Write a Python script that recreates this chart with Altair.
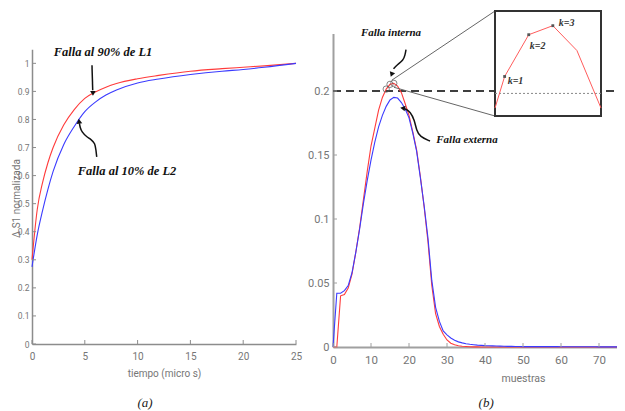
import altair as alt
import pandas as pd

# ---------------- data: panel (a) ----------------
t_a = [0, 0.5, 1, 1.5, 2, 3, 4, 5, 6, 7, 8, 10, 12, 15, 18, 20, 22, 25]
red_a = [0.300, 0.480, 0.575, 0.645, 0.700, 0.780, 0.835, 0.875, 0.898, 0.915,
         0.928, 0.945, 0.957, 0.972, 0.981, 0.986, 0.991, 1.000]
blue_a = [0.275, 0.390, 0.475, 0.550, 0.615, 0.710, 0.775, 0.828, 0.862, 0.887,
          0.905, 0.930, 0.944, 0.960, 0.972, 0.978, 0.986, 1.000]

# ---------------- data: panel (b) ----------------
samples_b = list(range(0, 81))
red_b = [0, 0, 0.040, 0.041, 0.046, 0.057, 0.074, 0.093, 0.115, 0.137,
         0.157, 0.171, 0.185, 0.195, 0.2015, 0.2052, 0.2060, 0.2038, 0.1987, 0.190,
         0.181, 0.168, 0.154, 0.133, 0.109, 0.082, 0.048, 0.026, 0.016, 0.010,
         0.0055, 0.003, 0.0018, 0.001, 0.0006, 0.0004, 0.0002, 0.0001, 0.0001, 0,
         0, 0, 0, 0, 0, 0, 0, 0, 0, 0,
         0, 0, 0, 0, 0, 0, 0, 0, 0, 0,
         0, 0, 0, 0, 0, 0, 0, 0, 0, 0,
         0, 0, 0, 0, 0, 0, 0, 0, 0, 0,
         0]
blue_b = [0, 0.042, 0.042, 0.044, 0.048, 0.058, 0.074, 0.092, 0.112, 0.130,
          0.146, 0.160, 0.172, 0.181, 0.188, 0.193, 0.195, 0.1945, 0.191, 0.186,
          0.179, 0.167, 0.153, 0.132, 0.110, 0.085, 0.052, 0.031, 0.020, 0.0125,
          0.0095, 0.007, 0.0052, 0.004, 0.0032, 0.0026, 0.0021, 0.0018, 0.0015, 0.0013,
          0.0011, 0.0010, 0.0009, 0.0008, 0.0007, 0.0006, 0.0005, 0.0005, 0.0004, 0.0004,
          0.0003, 0.0003, 0.0003, 0.0003, 0.0003, 0.0003, 0.0003, 0.0003, 0.0003, 0.0003,
          0.0002, 0.0002, 0.0002, 0.0002, 0.0002, 0.0002, 0.0002, 0.0002, 0.0002, 0.0002,
          0.0001, 0.0001, 0.0001, 0.0001, 0.0001, 0.0001, 0.0001, 0.0001, 0.0001, 0.0001,
          0.0001]
threshold = 0.2
peak_samples = [14, 15, 16]
k_labels = ["k=1", "k=2", "k=3"]

# zoomed inset of the red curve around the threshold crossing
inset_x = [13.6, 14, 15, 16, 17, 18]
inset_y = [0.1987, 0.2015, 0.2052, 0.2060, 0.2038, 0.1987]

# tick values
ticks_a_x = [0, 5, 10, 15, 20, 25]
ticks_a_y = [0, 0.1, 0.2, 0.3, 0.4, 0.5, 0.6, 0.7, 0.8, 0.9, 1]
ticks_b_x = [0, 10, 20, 30, 40, 50, 60, 70]
ticks_b_y = [0, 0.05, 0.1, 0.15, 0.2]

# annotation arrow paths (in each panel's data units)
arrow1_x = [5.68, 5.75]
arrow1_y = [0.993, 0.904]
arrow2_x = [6.13, 6.06, 5.97, 5.59, 5.18, 4.73, 4.55, 4.49]
arrow2_y = [0.6665, 0.690, 0.715, 0.7295, 0.738, 0.7545, 0.772, 0.7865]
arrow3_x = [19.21, 18.95, 18.5, 16.76, 15.92]
arrow3_y = [0.2323, 0.2279, 0.2240, 0.2201, 0.2174]
arrow4_x = [25.53, 22.89, 21.97, 21.45, 20.39, 18.95]
arrow4_y = [0.1609, 0.1642, 0.1693, 0.1771, 0.1838, 0.1861]

# ---------------- layout (pixels inside the chart) ----------------
W, H = 609, 339
LX, LY = [24, 288], [336, 41.3]
RX, RY = [325, 705], [339, 25.4]
IX, IY = [487, 593], [108, 3]

LAB = "Liberation Sans Narrow, Roboto, sans-serif"
SERIF = "Liberation Serif, DejaVu Serif, serif"
GRAY = "#767676"
RED = "#ff3b3b"
BLUE = "#3b3bff"


def ax(**kw):
    base = dict(grid=False, ticks=False, tickSize=0, labelFont=LAB, labelColor=GRAY,
                titleFont=LAB, titleColor=GRAY, titleFontWeight="normal",
                labelExpr="'' + datum.value", labelFlush=False, labelOverlap=False)
    base.update(kw)
    return alt.Axis(**base)


XA = alt.X("x:Q", scale=alt.Scale(domain=[0, 25], range=LX, nice=False, zero=False),
           axis=ax(orient="bottom", offset=-3, values=ticks_a_x, labelFontSize=10,
                   labelPadding=7, title="tiempo (micro s)", titleFontSize=10,
                   titlePadding=7, domainColor="#8c8c8c", domainWidth=1.5))
YA = alt.Y("y:Q", scale=alt.Scale(domain=[0, 1.05], range=LY, nice=False, zero=False),
           axis=ax(orient="left", offset=-24, values=ticks_a_y, labelFontSize=8.5,
                   labelPadding=3, title="Δ S1 normalizada", titleFontSize=10,
                   titleAngle=270, titleX=-16, titleY=190, titleAlign="center",
                   titleBaseline="middle", domainColor="#8c8c8c", domainWidth=1.5))
XB = alt.X("x:Q", scale=alt.Scale(domain=[0, 100], range=RX, nice=False, zero=False),
           axis=ax(orient="bottom", offset=0, values=ticks_b_x, labelFontSize=11.5,
                   labelPadding=7, title="muestras", titleFontSize=10.5,
                   titlePadding=8, domainColor="#a0a0a0", domainWidth=2))
YB = alt.Y("y:Q", scale=alt.Scale(domain=[0, 0.245], range=RY, nice=False, zero=False),
           axis=ax(orient="left", offset=-RX[0], values=ticks_b_y, labelFontSize=11,
                   labelPadding=4, title="", domainColor="#a0a0a0", domainWidth=2))
XI = alt.X("x:Q", scale=alt.Scale(domain=[inset_x[0], inset_x[-1]], range=IX, nice=False, zero=False), axis=None)
YI = alt.Y("y:Q", scale=alt.Scale(domain=[0.198, 0.2073], range=IY, nice=False, zero=False), axis=None)


def df(x, y):
    return pd.DataFrame({"x": x, "y": y, "i": list(range(len(x)))})


def label(x, y, text):
    return pd.DataFrame({"x": [x], "y": [y], "label": [text]})


ann_a = dict(font=SERIF, fontStyle="italic", fontWeight="bold", fontSize=12.5, color="#111")
ann_b = dict(font=SERIF, fontStyle="italic", fontWeight="bold", fontSize=11, color="#111")

# ---------------- panel (a) ----------------
left = alt.layer(
    alt.Chart(df(t_a, red_a)).mark_line(color=RED, strokeWidth=1.1, interpolate="monotone").encode(x=XA, y=YA),
    alt.Chart(df(t_a, blue_a)).mark_line(color=BLUE, strokeWidth=1.1, interpolate="monotone").encode(x=XA, y=YA),
    alt.Chart(pd.DataFrame({"x": ticks_a_x})).mark_rule(color="#8c8c8c").encode(
        x=XA, y=alt.value(LY[0]), y2=alt.value(LY[0] - 4)),
    alt.Chart(pd.DataFrame({"y": ticks_a_y})).mark_rule(color="#8c8c8c").encode(
        y=YA, x=alt.value(LX[0]), x2=alt.value(LX[0] + 4)),
    alt.Chart(df(arrow1_x, arrow1_y)).mark_line(color="#111", strokeWidth=1.5).encode(x=XA, y=YA, order="i:Q"),
    alt.Chart(df([5.77], [0.893])).mark_point(shape="triangle-down", filled=True, size=32, color="#111", opacity=1).encode(x=XA, y=YA),
    alt.Chart(df(arrow2_x, arrow2_y)).mark_line(color="#111", strokeWidth=1.5, interpolate="basis").encode(x=XA, y=YA, order="i:Q"),
    alt.Chart(df([4.47], [0.791])).mark_point(shape="triangle", angle=352, filled=True, size=32, color="#111", opacity=1).encode(x=XA, y=YA),
    alt.Chart(label(6.72, 1.025, "Falla al 90% de L1")).mark_text(align="center", baseline="alphabetic", **ann_a).encode(x=XA, y=YA, text="label:N"),
    alt.Chart(label(9.0, 0.601, "Falla al 10% de L2")).mark_text(align="center", baseline="alphabetic", **ann_a).encode(x=XA, y=YA, text="label:N"),
    alt.Chart(label(10.7, 0, "(a)")).mark_text(align="center", baseline="alphabetic", font=SERIF, fontStyle="italic", fontSize=13, color="#222").encode(
        x=XA, y=alt.value(399), text="label:N"),
)

# ---------------- panel (b) ----------------
peak_y = [red_b[s] for s in peak_samples]
right = alt.layer(
    alt.Chart(pd.DataFrame({"x": [0], "x2": [100], "y": [threshold]})).mark_rule(
        color="#000", strokeWidth=1.6, strokeDash=[8, 5]).encode(x=XB, x2="x2:Q", y=YB),
    alt.Chart(df(samples_b, red_b)).mark_line(color=RED, strokeWidth=1.1).encode(x=XB, y=YB),
    alt.Chart(df(samples_b, blue_b)).mark_line(color=BLUE, strokeWidth=1.1).encode(x=XB, y=YB),
    alt.Chart(df(peak_samples, peak_y)).mark_point(shape="circle", filled=False, size=40, color="#555", strokeWidth=1).encode(x=XB, y=YB),
    alt.Chart(df([15.45], [0.2084])).mark_rule(color="#666", strokeWidth=1).encode(
        x=XB, y=YB, x2=alt.value(IX[0]), y2=alt.value(IY[1])),
    alt.Chart(df([16.05], [0.2029])).mark_rule(color="#666", strokeWidth=1).encode(
        x=XB, y=YB, x2=alt.value(IX[0]), y2=alt.value(IY[0])),
    alt.Chart(pd.DataFrame({"x": ticks_b_x})).mark_rule(color="#a0a0a0").encode(
        x=XB, y=alt.value(RY[0]), y2=alt.value(RY[0] - 4)),
    alt.Chart(pd.DataFrame({"y": ticks_b_y})).mark_rule(color="#a0a0a0").encode(
        y=YB, x=alt.value(RX[0]), x2=alt.value(RX[0] + 4)),
    alt.Chart(df(arrow3_x, arrow3_y)).mark_line(color="#111", strokeWidth=1.5, interpolate="basis").encode(x=XB, y=YB, order="i:Q"),
    alt.Chart(df([15.5], [0.2135])).mark_point(shape="triangle", angle=200, filled=True, size=32, color="#111", opacity=1).encode(x=XB, y=YB),
    alt.Chart(df(arrow4_x, arrow4_y)).mark_line(color="#111", strokeWidth=1.5, interpolate="basis").encode(x=XB, y=YB, order="i:Q"),
    alt.Chart(df([18.55], [0.1865])).mark_point(shape="triangle", angle=280, filled=True, size=32, color="#111", opacity=1).encode(x=XB, y=YB),
    alt.Chart(label(15.26, 0.2427, "Falla interna")).mark_text(align="center", baseline="alphabetic", **ann_b).encode(x=XB, y=YB, text="label:N"),
    alt.Chart(label(35.26, 0.1591, "Falla externa")).mark_text(align="center", baseline="alphabetic", **ann_b).encode(x=XB, y=YB, text="label:N"),
    alt.Chart(label(40.3, 0, "(b)")).mark_text(align="center", baseline="alphabetic", font=SERIF, fontStyle="italic", fontSize=13, color="#222").encode(
        x=XB, y=alt.value(399), text="label:N"),
)

# ---------------- inset ----------------
k_df = pd.DataFrame({"x": peak_samples, "y": [inset_y[inset_x.index(s)] for s in peak_samples], "label": k_labels})
k_offsets = [(3, 8), (1, 14), (6, 0)]
inset_layers = [
    alt.Chart(pd.DataFrame({"a": [0]})).mark_rect(fill="white", stroke="#333", strokeWidth=2).encode(
        x=alt.value(IX[0]), x2=alt.value(IX[1]), y=alt.value(IY[1]), y2=alt.value(IY[0])),
    alt.Chart(pd.DataFrame({"x": [inset_x[0]], "x2": [inset_x[-1]], "y": [threshold]})).mark_rule(
        color="#888", strokeWidth=1, strokeDash=[2, 2]).encode(x=XI, x2="x2:Q", y=YI),
    alt.Chart(df(inset_x, inset_y)).mark_line(color="#ff5c5c", strokeWidth=1).encode(x=XI, y=YI),
    alt.Chart(k_df).mark_point(shape="square", filled=True, size=8, color="#555", opacity=1).encode(x=XI, y=YI),
]
for lab, (dx, dy) in zip(k_labels, k_offsets):
    inset_layers.append(
        alt.Chart(k_df[k_df["label"] == lab]).mark_text(
            align="left", baseline="alphabetic", dx=dx, dy=dy, font=SERIF, fontStyle="italic",
            fontWeight="bold", fontSize=10, color="#333").encode(x=XI, y=YI, text="label:N"))
inset = alt.layer(*inset_layers)

chart = alt.layer(left, right, inset).resolve_scale(
    x="independent", y="independent"
).properties(
    width=W, height=H, autosize="none",
    padding={"left": 0, "top": 0, "right": 0, "bottom": 64},
).configure_view(stroke=None)

chart.save("out.html", embed_options={"renderer": "svg", "actions": False})
